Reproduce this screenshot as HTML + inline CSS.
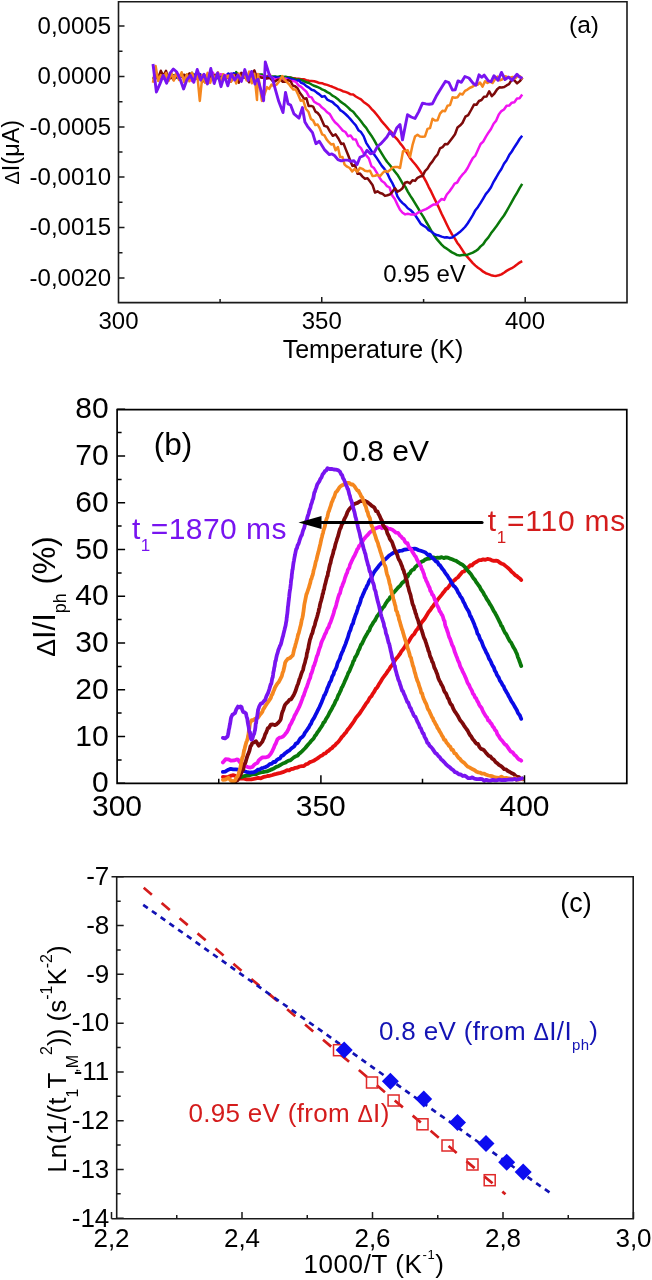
<!DOCTYPE html>
<html><head><meta charset="utf-8"><style>
html,body{margin:0;padding:0;background:#fff;font-family:"Liberation Sans",sans-serif;}
svg{display:block;will-change:transform;}
</style></head><body>
<svg width="652" height="1280" viewBox="0 0 652 1280">
<path d="M153.0 77.8L155.6 77.9L158.2 76.6L160.8 75.7L163.4 75.4L166.0 76.5L168.6 75.5L171.2 75.1L173.8 76.7L176.4 76.6L179.0 77.0L181.6 75.6L184.2 76.5L186.8 76.4L189.4 75.0L192.0 77.0L194.6 76.8L197.2 78.9L199.8 76.7L202.4 76.4L205.0 77.7L207.6 76.7L210.2 77.4L212.8 76.1L215.4 76.7L218.0 77.5L220.6 77.2L223.2 76.6L225.8 75.4L228.4 76.9L231.0 76.6L233.6 77.2L236.2 76.7L238.8 77.6L241.4 76.4L244.0 76.7L246.6 77.2L249.2 75.4L251.8 76.1L254.4 76.0L257.0 78.5L259.6 76.4L262.2 77.2L264.8 77.1L267.4 76.2L270.0 74.9L270.0 77.2L272.6 77.2L275.2 77.6L277.8 77.2L280.4 77.5L283.0 78.0L285.6 78.2L288.2 77.6L290.8 77.8L293.4 78.2L296.0 78.6L298.6 78.8L301.2 79.2L303.8 79.3L306.4 80.1L309.0 80.8L311.6 80.9L314.2 81.2L316.8 82.0L319.4 83.1L322.0 83.2L324.6 84.3L327.2 84.9L329.8 85.9L332.4 86.8L335.0 87.8L337.6 89.1L340.2 89.9L342.8 91.2L345.4 91.9L348.0 92.9L350.6 94.3L353.2 94.6L355.8 96.5L358.4 98.0L361.0 99.4L363.6 101.9L366.2 103.8L368.8 105.7L371.4 108.8L374.0 111.4L376.6 114.5L379.2 117.8L381.8 121.4L384.4 124.3L387.0 127.4L389.6 130.5L392.2 133.0L394.8 136.9L397.4 139.5L400.0 143.1L402.6 146.2L405.2 150.1L407.8 154.2L410.4 158.5L413.0 161.7L415.6 164.7L418.2 168.3L420.8 171.9L423.4 176.6L426.0 181.3L428.6 186.8L431.2 191.7L433.8 197.3L436.4 202.6L439.0 207.9L441.6 213.7L444.2 219.0L446.8 224.5L449.4 229.7L452.0 234.4L454.6 238.1L457.2 242.7L459.8 246.1L462.4 250.2L465.0 254.2L467.6 257.1L470.2 260.1L472.8 263.1L475.4 265.6L478.0 267.8L480.6 269.5L483.2 271.7L485.8 273.2L488.4 274.1L491.0 275.2L493.6 275.7L496.2 275.9L498.8 275.3L501.4 274.4L504.0 272.7L506.6 270.9L509.2 269.4L511.8 268.2L514.4 266.5L517.0 264.6L519.6 262.6L522.2 261.1" fill="none" stroke="#e60e0e" stroke-width="2.5" stroke-linejoin="round"/>
<path d="M153.0 79.3L155.6 75.7L158.2 77.0L160.8 76.7L163.4 77.5L166.0 74.8L168.6 76.0L171.2 75.6L173.8 75.2L176.4 75.5L179.0 75.9L181.6 76.2L184.2 75.4L186.8 77.0L189.4 75.8L192.0 72.7L194.6 77.9L197.2 76.0L199.8 75.6L202.4 76.8L205.0 76.8L207.6 76.6L210.2 75.5L212.8 76.7L215.4 74.7L218.0 78.2L220.6 75.0L223.2 76.3L225.8 76.5L228.4 76.8L231.0 76.2L233.6 77.1L236.2 72.1L238.8 76.2L241.4 76.2L244.0 75.8L246.6 78.2L249.2 75.2L251.8 76.2L254.4 73.9L257.0 76.7L259.6 74.4L262.2 74.5L264.8 79.2L264.8 79.4L267.4 77.4L270.0 77.0L272.6 76.4L275.2 76.5L277.8 77.0L280.4 76.3L283.0 77.1L285.6 76.7L288.2 77.5L290.8 77.5L293.4 78.8L296.0 79.2L298.6 79.5L301.2 79.9L303.8 81.1L306.4 82.3L309.0 83.0L311.6 84.5L314.2 85.8L316.8 86.7L319.4 87.8L322.0 89.4L324.6 90.4L327.2 92.1L329.8 93.3L332.4 95.7L335.0 97.0L337.6 98.9L340.2 101.4L342.8 103.2L345.4 105.1L348.0 107.4L350.6 110.0L353.2 111.7L355.8 115.1L358.4 118.0L361.0 121.2L363.6 124.9L366.2 127.8L368.8 132.1L371.4 135.7L374.0 139.9L376.6 144.6L379.2 149.4L381.8 153.7L384.4 157.8L387.0 161.8L389.6 164.8L392.2 168.1L394.8 171.4L397.4 174.7L400.0 178.9L402.6 183.5L405.2 186.7L407.8 191.6L410.4 195.9L413.0 199.8L415.6 204.1L418.2 208.4L420.8 212.9L423.4 216.9L426.0 221.5L428.6 225.8L431.2 230.6L433.8 234.7L436.4 238.6L439.0 241.6L441.6 244.6L444.2 247.2L446.8 248.7L449.4 250.6L452.0 252.4L454.6 253.7L457.2 255.1L459.8 255.4L462.4 255.1L465.0 254.9L467.6 254.7L470.2 253.7L472.8 252.7L475.4 251.2L478.0 249.4L480.6 246.4L483.2 244.3L485.8 240.3L488.4 237.4L491.0 233.3L493.6 229.9L496.2 226.6L498.8 222.7L501.4 218.9L504.0 215.5L506.6 211.1L509.2 206.5L511.8 201.8L514.4 197.2L517.0 192.8L519.6 188.2L522.2 183.9" fill="none" stroke="#0a780a" stroke-width="2.5" stroke-linejoin="round"/>
<path d="M153.0 76.6L155.6 78.4L158.2 75.1L160.8 78.0L163.4 76.1L166.0 76.1L168.6 79.3L171.2 76.7L173.8 76.4L176.4 77.6L179.0 78.2L181.6 76.5L184.2 77.4L186.8 75.0L189.4 75.9L192.0 75.8L194.6 74.5L197.2 74.2L199.8 74.1L202.4 76.1L205.0 76.2L207.6 76.0L210.2 76.6L212.8 74.5L215.4 76.4L218.0 76.9L220.6 77.6L223.2 75.2L225.8 75.9L228.4 73.5L231.0 75.7L233.6 73.2L236.2 74.4L238.8 78.2L241.4 73.2L244.0 77.7L246.6 77.0L249.2 76.0L251.8 77.2L254.4 77.3L257.0 78.1L259.6 76.2L259.6 75.9L262.2 76.4L264.8 76.5L267.4 77.2L270.0 77.1L272.6 78.2L275.2 77.0L277.8 77.6L280.4 77.8L283.0 77.5L285.6 79.8L288.2 77.9L290.8 79.3L293.4 79.6L296.0 81.2L298.6 80.2L301.2 82.9L303.8 83.8L306.4 86.2L309.0 87.6L311.6 89.8L314.2 90.5L316.8 92.6L319.4 94.4L322.0 96.7L324.6 96.1L327.2 99.6L329.8 100.9L332.4 102.0L335.0 104.5L337.6 106.5L340.2 110.1L342.8 111.8L345.4 114.0L348.0 116.5L350.6 119.4L353.2 122.5L355.8 125.4L358.4 130.2L361.0 132.1L363.6 136.1L366.2 142.8L368.8 146.9L371.4 150.9L374.0 154.2L376.6 157.9L379.2 161.9L381.8 165.9L384.4 168.9L387.0 172.8L389.6 178.3L392.2 182.8L394.8 188.4L397.4 196.3L400.0 200.4L402.6 203.1L405.2 205.3L407.8 208.3L410.4 210.0L413.0 212.5L415.6 215.8L418.2 219.8L420.8 223.9L423.4 225.6L426.0 227.2L428.6 230.1L431.2 231.5L433.8 233.5L436.4 235.1L439.0 235.6L441.6 236.6L444.2 237.4L446.8 237.2L449.4 237.9L452.0 237.6L454.6 235.8L457.2 234.0L459.8 232.1L462.4 229.7L465.0 227.0L467.6 223.5L470.2 219.3L472.8 215.2L475.4 210.2L478.0 206.9L480.6 202.9L483.2 198.6L485.8 194.1L488.4 191.0L491.0 187.2L493.6 181.8L496.2 177.5L498.8 172.9L501.4 169.0L504.0 163.8L506.6 160.3L509.2 155.1L511.8 151.5L514.4 147.2L517.0 143.3L519.6 139.0L522.2 135.8" fill="none" stroke="#0a0ae6" stroke-width="2.5" stroke-linejoin="round"/>
<path d="M153.0 76.6L155.6 77.4L158.2 75.6L160.8 77.2L163.4 78.4L166.0 77.3L168.6 79.6L171.2 74.7L173.8 76.6L176.4 75.1L179.0 74.9L181.6 76.1L184.2 76.9L186.8 77.3L189.4 77.5L192.0 81.0L194.6 78.2L197.2 73.3L199.8 76.9L202.4 75.3L205.0 75.5L207.6 79.1L210.2 76.1L212.8 72.6L215.4 77.1L218.0 75.9L220.6 74.2L223.2 74.7L225.8 75.2L228.4 76.5L231.0 75.6L233.6 76.6L236.2 80.2L238.8 74.9L241.4 74.9L244.0 76.0L246.6 78.7L249.2 75.1L251.8 79.4L254.4 73.9L257.0 74.4L259.6 76.4L259.6 75.8L262.2 76.4L264.8 77.8L267.4 78.3L270.0 77.9L272.6 77.8L275.2 79.6L277.8 79.0L280.4 78.6L283.0 80.3L285.6 78.6L288.2 80.0L290.8 81.0L293.4 81.1L296.0 81.9L298.6 85.4L301.2 86.8L303.8 89.4L306.4 91.7L309.0 96.6L311.6 97.4L314.2 101.8L316.8 103.4L319.4 104.7L322.0 107.6L324.6 109.5L327.2 112.3L329.8 114.1L332.4 118.7L335.0 122.3L337.6 124.5L340.2 127.5L342.8 130.6L345.4 132.0L348.0 136.2L350.6 135.4L353.2 139.3L355.8 139.6L358.4 145.7L361.0 148.1L363.6 153.3L366.2 155.4L368.8 158.3L371.4 166.2L374.0 168.1L376.6 172.4L379.2 177.1L381.8 181.0L384.4 182.7L387.0 186.2L389.6 187.5L392.2 195.5L394.8 199.0L397.4 204.6L400.0 209.8L402.6 212.8L405.2 214.4L407.8 213.8L410.4 214.4L413.0 214.4L415.6 214.4L418.2 212.5L420.8 211.4L423.4 210.2L426.0 209.1L428.6 207.6L431.2 205.9L433.8 204.4L436.4 204.4L439.0 201.6L441.6 199.0L444.2 199.9L446.8 194.5L449.4 191.5L452.0 187.8L454.6 183.6L457.2 182.5L459.8 178.0L462.4 174.7L465.0 172.0L467.6 168.0L470.2 162.9L472.8 158.1L475.4 155.6L478.0 149.8L480.6 144.0L483.2 141.6L485.8 136.9L488.4 132.7L491.0 129.0L493.6 123.7L496.2 120.6L498.8 114.4L501.4 111.1L504.0 109.5L506.6 105.8L509.2 105.6L511.8 102.7L514.4 102.2L517.0 98.5L519.6 98.2L522.2 94.6" fill="none" stroke="#f014f0" stroke-width="2.5" stroke-linejoin="round"/>
<path d="M153.0 73.6L155.6 73.6L158.2 78.2L160.8 70.8L163.4 76.1L166.0 70.9L168.6 79.3L171.2 77.0L173.8 79.9L176.4 75.2L179.0 77.5L181.6 75.8L184.2 74.7L186.8 76.9L189.4 73.4L192.0 75.6L194.6 78.2L197.2 76.6L199.8 75.5L202.4 82.0L205.0 76.6L207.6 75.0L210.2 76.9L212.8 75.2L215.4 75.5L218.0 75.6L220.6 81.6L223.2 76.6L225.8 76.9L228.4 78.2L231.0 81.5L233.6 75.9L236.2 74.9L238.8 82.7L241.4 72.9L244.0 75.6L246.6 78.2L249.2 82.2L251.8 74.1L254.4 70.4L257.0 78.2L257.0 77.4L259.5 77.0L262.0 77.7L264.6 77.8L267.2 78.3L269.8 77.7L272.4 80.8L275.0 81.5L277.6 79.8L280.2 79.5L282.8 81.7L285.4 81.8L288.0 80.0L290.6 81.3L292.9 85.8L295.1 86.3L297.4 88.2L299.6 92.4L301.9 95.4L304.1 98.9L306.4 98.2L308.6 106.0L310.9 105.9L313.1 106.6L315.4 111.6L317.6 112.9L319.9 115.8L322.1 120.7L324.4 125.9L327.2 126.7L330.0 131.6L332.8 135.8L335.6 134.4L338.4 138.5L341.2 143.9L343.5 143.5L345.7 149.1L348.0 154.8L350.2 160.5L352.5 165.9L355.0 164.8L357.5 173.7L360.0 173.6L362.5 176.6L365.0 178.7L367.5 178.3L370.0 181.6L372.5 184.9L375.0 192.5L377.5 191.3L380.0 193.0L382.5 193.8L385.0 195.9L387.5 195.3L390.0 194.4L392.5 191.6L395.0 188.3L397.5 191.7L400.0 190.4L402.5 188.3L405.0 182.8L407.5 182.0L410.0 183.4L412.5 180.3L415.0 180.9L417.5 177.8L420.0 176.6L422.5 176.1L425.0 171.1L427.5 168.7L430.0 164.4L432.5 161.4L435.0 157.3L437.5 154.6L440.0 148.4L442.5 147.2L445.0 144.1L447.5 144.3L450.0 141.0L452.5 137.7L455.0 134.3L457.5 127.5L460.0 125.6L462.5 122.9L465.4 116.7L468.2 115.1L471.1 110.0L474.0 104.6L476.5 104.8L479.0 101.0L481.5 100.0L484.0 96.8L486.6 96.5L489.2 91.3L491.8 96.1L494.4 93.5L497.0 89.5L499.4 87.3L501.8 87.4L504.2 87.1L506.6 85.4L509.0 84.1L511.7 79.8L514.4 80.4L517.1 83.4L519.8 81.1L522.5 77.7" fill="none" stroke="#7d0a0a" stroke-width="2.5" stroke-linejoin="round"/>
<path d="M153.0 82.7L155.6 66.0L158.2 81.0L160.8 75.1L163.4 78.5L166.0 73.0L168.6 81.0L171.2 72.5L173.8 80.5L176.4 72.5L179.0 79.9L181.6 72.3L184.2 82.3L186.8 74.3L189.4 81.3L192.0 72.9L194.6 79.5L197.2 73.6L199.8 101.0L202.4 75.1L205.0 82.7L207.6 72.9L210.2 82.9L212.8 74.7L215.4 79.0L218.0 72.3L220.6 82.7L223.2 74.2L225.8 79.0L228.4 75.5L231.0 81.8L233.6 75.0L236.2 83.5L238.8 73.4L241.4 79.6L244.0 73.1L246.6 80.4L249.2 71.6L251.8 83.3L254.4 73.8L257.0 100.0L257.0 99.0L258.0 73.9L261.9 100.9L264.4 94.5L267.0 87.1L269.2 88.9L271.5 84.6L273.7 86.0L276.5 84.6L279.4 81.1L282.2 76.0L284.4 79.6L286.7 81.8L288.9 84.1L291.2 87.2L293.4 89.6L295.7 89.5L298.2 94.7L300.7 100.7L303.2 100.2L305.8 108.7L308.4 111.7L310.9 119.0L313.1 120.4L315.4 125.1L317.6 124.5L319.9 128.7L322.1 134.3L324.4 135.3L326.6 139.4L328.9 142.2L331.1 144.4L333.4 144.0L335.6 150.3L337.9 147.1L340.1 157.0L342.4 156.9L344.6 164.6L347.1 166.7L349.7 168.0L352.2 171.4L354.8 168.9L357.4 171.9L359.9 167.8L362.4 168.8L365.0 170.8L367.5 171.3L370.0 170.8L372.5 176.0L375.0 175.7L377.5 174.8L380.0 176.1L382.5 173.2L385.0 170.9L387.5 171.9L390.0 170.1L392.5 167.6L395.0 167.1L397.5 166.9L400.0 168.0L403.0 151.2L405.3 151.1L407.7 150.2L410.0 157.0L412.5 145.2L415.0 136.6L417.5 134.8L420.0 136.6L422.5 136.7L425.0 136.4L427.5 128.9L430.0 128.1L432.5 118.8L435.0 120.5L437.5 120.3L440.0 113.6L442.5 110.8L445.0 111.2L447.5 105.7L450.0 105.1L452.5 97.3L455.0 97.7L457.5 97.2L460.0 93.6L462.5 94.5L465.0 90.9L467.5 89.6L470.0 87.7L472.5 86.8L475.0 85.0L477.5 84.7L480.0 82.5L482.5 86.6L485.0 81.2L487.5 83.0L490.0 81.7L492.5 83.0L495.0 79.2L497.5 76.6L500.0 80.2L502.5 79.3L505.0 76.2L507.5 77.0L510.0 77.7L512.5 76.9L515.0 78.5L517.5 76.1L520.0 76.2L522.5 79.6" fill="none" stroke="#f5871e" stroke-width="2.5" stroke-linejoin="round"/>
<path d="M153.0 64.0L156.4 92.0L159.8 84.1L163.2 75.4L166.6 83.2L170.0 73.1L173.4 69.0L176.8 72.0L180.2 79.3L183.6 89.0L187.0 79.6L190.4 75.3L193.8 82.3L197.2 69.5L200.6 80.0L204.0 74.2L207.4 83.9L210.8 68.5L214.2 83.5L217.6 72.9L221.0 86.7L224.4 75.6L227.8 85.8L231.2 73.7L234.6 80.1L238.0 75.1L241.4 81.4L244.8 69.6L248.2 80.4L251.6 71.4L255.0 84.0L255.0 81.8L258.0 79.3L260.8 89.6L263.6 100.8L265.3 61.9L269.5 75.5L272.4 78.3L275.4 89.7L278.8 101.6L283.0 112.6L285.5 92.4L288.1 103.9L290.6 105.0L294.0 113.9L299.0 118.1L302.4 107.6L304.9 122.0L307.5 126.3L312.5 132.6L315.9 143.7L319.3 141.3L324.4 149.6L329.4 154.6L331.9 153.9L334.5 155.5L337.9 159.6L341.2 160.9L344.6 160.1L348.0 160.1L351.0 161.3L354.0 160.8L357.0 164.7L360.0 157.3L363.5 155.7L367.0 150.4L370.5 153.8L374.0 152.7L377.5 146.5L380.6 143.9L383.8 140.5L386.9 137.0L390.0 131.6L393.3 136.3L396.7 128.1L400.0 124.5L402.5 139.9L407.5 114.7L411.2 117.0L415.0 118.5L418.8 111.6L422.5 103.1L425.8 103.9L429.2 104.3L432.5 103.7L436.2 96.3L440.0 90.0L442.8 85.5L445.5 81.3L448.9 82.5L452.4 90.0L455.2 89.9L458.0 80.9L461.4 82.3L464.9 76.5L468.9 78.0L473.0 83.2L476.0 85.2L479.0 74.8L481.6 77.3L484.2 75.1L488.3 80.9L491.1 81.7L494.0 75.7L498.0 80.3L501.5 72.4L505.0 79.5L508.5 77.1L512.0 80.2L517.0 74.3L519.8 77.2L522.5 78.4" fill="none" stroke="#7814f0" stroke-width="2.9" stroke-linejoin="round"/>
<path d="M222.9 777.0L225.2 777.1L228.4 776.8L230.5 775.9L232.8 775.2L234.8 775.6L237.0 777.0L239.4 778.6L241.6 778.4L244.1 778.7L246.8 779.4L249.0 779.3L251.3 779.4L253.7 778.9L256.0 778.3L258.3 777.9L260.7 778.4L263.0 777.2L265.2 776.7L267.6 776.0L269.8 775.8L272.5 775.0L274.3 774.4L276.3 773.9L278.4 773.3L280.6 772.8L282.9 772.2L285.0 771.3L287.1 770.1L289.2 770.3L291.2 769.0L293.3 768.8L295.4 767.8L297.5 767.5L299.6 766.5L301.7 766.1L303.8 766.2L305.8 764.4L307.9 763.7L310.0 762.1L311.8 761.5L313.6 760.8L315.4 759.6L317.1 758.6L318.9 757.4L320.7 755.9L322.5 755.2L324.1 753.7L325.6 753.4L327.2 751.5L328.8 750.7L330.3 749.2L331.9 748.2L333.4 746.3L335.0 745.3L336.4 743.5L337.8 742.4L339.2 740.7L340.6 738.9L341.9 736.9L343.3 735.6L344.7 733.7L346.1 732.3L347.5 729.9L348.8 728.5L350.0 726.8L351.2 725.1L352.5 723.3L353.8 721.5L355.0 719.5L356.2 717.6L357.5 716.0L358.8 714.5L360.0 713.0L361.1 711.2L362.3 709.5L363.4 707.8L364.5 706.1L365.7 704.2L366.8 702.7L368.0 701.3L369.1 699.0L370.2 697.2L371.4 696.3L372.5 694.1L373.6 692.6L374.7 690.9L375.8 688.7L376.8 688.1L377.9 686.3L379.0 684.1L380.1 682.6L381.2 680.7L382.4 678.6L383.7 676.9L385.0 675.1L386.0 673.8L387.1 672.2L388.2 670.4L389.3 669.2L390.5 666.9L391.6 665.7L392.8 664.1L394.0 661.9L395.3 659.8L396.5 658.3L397.7 656.9L398.9 655.3L400.1 653.8L401.3 651.4L402.5 650.0L403.7 648.5L404.8 646.6L406.0 644.3L407.2 643.6L408.3 642.4L409.5 640.3L410.7 638.1L411.8 636.5L413.0 635.1L414.2 634.1L415.3 631.9L416.5 630.0L417.7 628.8L418.8 626.6L420.0 625.6L421.2 623.1L422.4 621.4L423.6 620.1L424.8 618.5L426.0 616.5L427.2 614.6L428.5 612.2L429.7 610.8L430.9 609.1L432.0 607.4L433.2 606.1L434.3 604.3L435.4 603.1L436.5 601.4L437.5 599.9L439.1 597.9L440.6 596.1L442.0 594.4L443.4 592.4L444.7 590.9L446.0 589.0L447.3 588.5L448.6 586.9L450.0 584.9L451.6 583.2L453.1 581.3L454.7 580.1L456.2 578.5L457.8 577.5L459.4 575.5L460.9 573.7L462.5 571.8L464.1 571.5L465.6 569.7L467.2 567.8L468.8 567.0L470.3 565.1L471.9 565.5L473.4 563.7L475.0 562.7L477.1 561.5L479.2 560.1L481.2 560.1L483.3 559.3L485.4 559.8L487.5 558.9L489.6 559.3L491.8 560.3L493.9 560.8L496.0 560.6L498.1 561.2L500.0 562.8L501.8 563.7L503.5 564.3L505.1 565.6L506.7 566.9L508.3 568.2L510.0 569.8L511.6 571.8L513.5 573.2L515.3 575.3L517.2 576.3L518.8 577.8L520.2 578.8L521.2 580.0" fill="none" stroke="#e60e0e" stroke-width="3.8" stroke-linejoin="round" stroke-linecap="round"/>
<path d="M239.4 777.0L241.3 777.0L243.9 776.2L246.8 775.5L249.0 775.4L251.3 774.7L253.7 774.1L256.0 774.2L258.3 773.1L260.7 772.5L263.0 772.0L265.2 771.7L267.0 771.4L268.6 770.7L270.4 769.9L272.5 769.1L274.3 768.2L276.3 766.9L278.4 766.2L280.6 764.9L282.9 763.5L285.0 762.8L286.8 761.6L288.6 760.6L290.4 760.3L292.1 758.9L293.9 757.4L295.7 756.3L297.5 755.7L299.1 753.7L300.6 752.6L302.2 751.1L303.8 749.5L305.3 748.0L306.9 746.0L308.4 744.2L310.0 742.5L311.2 740.9L312.5 739.7L313.8 738.3L315.0 735.8L316.2 734.6L317.5 732.3L318.8 730.6L320.0 728.8L321.2 727.0L322.5 724.9L323.5 722.5L324.6 722.0L325.6 719.8L326.7 717.9L327.7 716.5L328.8 714.2L329.8 712.1L330.8 710.7L331.9 708.7L332.9 706.4L334.0 704.8L335.0 702.6L335.8 700.5L336.7 699.6L337.5 697.4L338.3 695.2L339.2 693.9L340.0 691.9L340.8 690.3L341.7 687.7L342.5 686.6L343.3 684.7L344.2 682.7L345.0 680.8L345.8 679.1L346.7 677.1L347.5 675.1L348.3 672.9L349.2 671.7L350.0 669.8L350.8 667.7L351.7 665.7L352.5 664.0L353.3 661.2L354.2 660.2L355.0 657.5L355.8 656.5L356.7 654.9L357.5 653.3L358.3 650.8L359.2 649.4L360.0 647.5L360.9 644.9L361.9 643.9L362.8 641.9L363.7 640.1L364.6 638.0L365.5 636.6L366.4 634.9L367.3 633.5L368.3 631.4L369.3 630.6L370.3 627.6L371.4 625.8L372.5 624.0L373.5 622.1L374.6 621.0L375.7 619.0L376.9 616.5L378.1 615.1L379.3 613.5L380.5 610.9L381.7 609.5L382.9 607.5L384.2 606.5L385.4 604.1L386.6 602.2L387.8 600.4L388.9 599.6L390.0 597.4L391.5 596.3L393.0 593.2L394.5 591.8L396.0 590.1L397.4 588.3L398.8 586.9L400.2 585.7L401.5 583.8L402.8 582.2L403.9 581.7L405.0 580.5L406.6 577.7L407.9 576.2L408.9 573.8L409.9 573.4L411.0 571.2L412.5 569.8L413.8 569.4L415.3 567.0L416.8 565.9L418.4 564.2L420.1 562.7L421.8 561.6L423.4 561.0L425.0 559.6L427.1 558.9L429.2 558.7L431.2 558.0L433.3 557.4L435.4 558.1L437.5 557.6L439.6 557.9L441.7 557.1L443.8 558.1L445.8 557.4L447.9 557.7L450.0 558.6L452.1 559.3L454.2 560.2L456.2 560.9L458.3 562.3L460.4 563.8L462.5 564.8L463.9 565.9L465.3 567.5L466.7 569.4L468.1 571.1L469.4 572.4L470.8 574.0L472.2 576.2L473.6 578.4L475.0 579.8L476.1 582.0L477.3 583.4L478.5 585.3L479.7 586.8L480.8 589.3L482.0 590.8L483.1 592.3L484.3 594.9L485.4 596.3L486.5 598.6L487.5 600.1L488.6 601.7L489.7 603.8L490.8 605.4L491.8 607.1L492.8 609.1L493.8 611.1L494.8 612.5L495.7 614.2L496.6 615.7L497.5 617.7L498.5 619.6L499.5 621.7L500.4 623.3L501.2 625.7L502.1 626.3L503.0 628.6L504.0 630.7L505.0 632.8L505.9 633.7L506.9 635.5L507.9 637.6L509.0 639.7L510.1 641.5L511.1 642.5L512.2 644.8L513.2 646.9L514.1 648.3L515.0 649.7L516.0 652.0L517.0 654.1L517.9 657.3L518.8 659.2L519.5 661.3L520.2 663.1L520.8 665.0L521.2 666.0" fill="none" stroke="#0a780a" stroke-width="3.8" stroke-linejoin="round" stroke-linecap="round"/>
<path d="M222.9 771.9L225.2 771.6L228.4 769.7L230.7 768.8L233.3 769.3L235.8 769.4L238.3 769.7L240.7 770.5L243.1 771.0L245.3 771.5L247.5 772.2L249.6 772.7L251.7 772.4L253.8 772.3L256.0 771.3L257.8 769.7L259.7 769.5L261.6 768.2L263.4 767.8L265.6 767.0L267.8 765.8L270.0 763.8L271.7 763.8L273.4 761.9L275.2 762.0L277.0 759.8L278.5 758.9L279.9 758.6L281.4 756.0L283.1 755.4L285.0 753.4L286.3 752.5L287.8 751.2L289.4 750.5L291.0 748.8L292.6 747.6L294.3 746.2L295.9 743.6L297.5 743.1L298.8 741.0L300.0 738.9L301.2 737.7L302.5 736.7L303.8 735.1L305.0 732.6L306.2 731.1L307.5 729.2L308.8 727.5L310.0 725.0L311.0 723.8L311.9 721.3L312.9 719.6L313.8 718.3L314.8 716.5L315.8 714.3L316.7 712.6L317.7 710.5L318.7 708.7L319.6 706.8L320.6 704.5L321.5 702.5L322.5 699.9L323.3 698.1L324.1 695.5L324.9 694.8L325.7 692.8L326.5 691.1L327.3 688.2L328.1 686.8L328.9 684.8L329.7 682.4L330.5 681.5L331.3 679.7L332.1 676.8L332.8 675.6L333.6 674.3L334.3 671.3L335.0 670.4L335.9 668.6L336.7 666.7L337.5 663.4L338.3 661.6L339.1 660.2L339.9 658.7L340.6 655.8L341.4 654.1L342.1 652.1L342.8 651.2L343.6 648.6L344.3 647.2L345.0 645.3L345.7 643.6L346.4 641.4L347.1 639.5L347.7 638.0L348.3 635.9L349.0 633.3L349.6 631.7L350.3 630.4L350.9 628.2L351.6 626.0L352.3 624.3L353.0 623.5L353.8 620.0L354.4 618.5L355.0 616.7L355.7 614.5L356.4 613.2L357.0 611.1L357.7 609.0L358.4 606.3L359.1 605.4L359.9 603.2L360.6 600.9L361.3 597.9L362.0 597.1L362.8 594.8L363.5 593.4L364.3 591.5L365.0 589.7L366.0 588.3L367.0 585.8L368.0 584.2L369.1 581.2L370.1 579.6L371.2 578.3L372.2 576.0L373.3 573.7L374.3 571.9L375.4 570.4L376.5 569.0L377.5 567.8L379.1 565.5L380.7 563.8L382.3 562.1L383.9 560.2L385.5 559.2L387.1 557.6L388.6 556.1L390.0 555.0L392.1 553.7L394.1 552.4L395.9 551.6L397.9 551.6L400.0 550.8L401.9 550.7L404.0 549.7L406.1 549.5L408.2 549.1L410.4 548.6L412.5 548.9L414.6 548.7L416.7 549.2L418.8 550.2L420.8 550.8L422.9 551.5L425.0 552.2L426.6 553.7L428.1 555.2L429.7 554.6L431.2 557.1L432.8 558.1L434.4 559.8L435.9 561.4L437.5 562.1L438.8 564.7L440.0 565.3L441.2 567.1L442.5 569.1L443.8 570.6L445.0 572.6L446.2 574.2L447.5 575.8L448.8 578.2L450.0 579.6L451.1 582.3L452.3 583.6L453.5 585.9L454.7 586.6L455.8 588.1L457.0 589.9L458.1 592.5L459.3 594.0L460.4 596.5L461.5 597.6L462.5 599.5L463.5 602.0L464.5 603.6L465.5 606.0L466.5 607.9L467.5 609.7L468.4 610.9L469.3 612.9L470.2 616.0L471.0 616.7L471.8 618.6L472.5 620.1L473.5 622.4L474.3 624.3L474.8 625.9L475.5 627.7L476.3 629.3L477.5 633.7L478.2 634.5L478.9 635.6L479.7 638.2L480.5 640.1L481.4 641.1L482.3 643.5L483.3 646.4L484.2 648.1L485.2 650.1L486.2 652.5L487.2 654.1L488.1 656.0L489.1 658.8L490.0 660.0L491.0 662.0L491.9 664.3L492.9 666.1L493.9 667.6L494.9 670.9L495.9 672.1L496.9 674.9L497.9 676.3L498.8 677.6L499.8 680.5L500.7 681.6L501.6 683.0L502.5 685.0L503.6 686.2L504.7 689.2L505.7 690.6L506.7 692.5L507.7 694.0L508.7 696.3L509.7 697.8L510.6 699.7L511.6 701.6L512.5 702.7L513.6 704.5L514.7 706.7L515.8 708.3L517.0 710.5L518.0 713.1L519.0 714.3L519.9 715.5L520.7 717.6L521.2 718.9" fill="none" stroke="#0a0ae6" stroke-width="3.8" stroke-linejoin="round" stroke-linecap="round"/>
<path d="M222.9 762.4L223.9 761.3L225.6 759.2L228.2 759.3L231.2 760.7L234.1 760.4L236.7 759.4L238.0 759.6L239.4 761.6L241.1 763.7L243.0 763.6L245.0 765.9L247.8 767.1L250.5 767.5L252.4 766.9L254.2 764.8L256.0 763.5L257.4 763.0L258.7 760.4L260.6 758.8L262.2 757.5L264.1 757.4L266.1 757.3L268.2 756.6L270.0 754.7L271.0 753.3L272.0 751.6L273.0 749.5L273.9 747.7L274.8 745.1L275.7 743.7L276.6 741.4L277.5 739.2L279.4 737.7L281.2 737.4L283.1 736.5L285.0 734.4L285.9 733.2L286.9 732.0L287.8 730.3L288.8 728.5L289.7 725.6L290.6 724.2L291.6 722.5L292.5 720.2L293.4 719.0L294.4 716.1L295.3 714.6L296.2 712.9L297.2 710.8L298.1 709.1L299.1 707.2L300.0 705.0L300.8 703.0L301.5 701.1L302.2 699.4L303.0 696.7L303.8 695.6L304.5 692.9L305.2 691.2L306.0 688.7L306.8 687.2L307.5 684.8L308.2 682.9L308.9 680.7L309.5 679.1L310.2 677.8L310.9 674.1L311.6 673.1L312.3 670.9L313.0 668.5L313.6 666.0L314.3 665.3L315.0 662.6L315.7 660.9L316.3 658.2L317.0 655.9L317.7 654.7L318.3 652.5L319.0 649.9L319.7 647.9L320.4 646.3L321.1 643.5L321.8 641.5L322.5 640.0L323.3 638.4L324.2 636.4L325.0 634.1L325.9 632.8L326.8 630.2L327.7 628.2L328.6 627.6L329.5 624.2L330.4 622.6L331.2 620.3L331.9 618.3L332.5 616.6L333.1 614.9L333.7 613.0L334.3 610.5L334.9 608.7L335.5 607.4L336.2 605.0L336.8 602.4L337.4 600.6L338.0 598.0L338.7 595.9L339.3 594.2L340.0 593.3L340.7 590.2L341.4 587.5L342.1 586.4L342.8 584.1L343.5 582.7L344.2 580.9L344.9 578.1L345.6 576.3L346.4 573.8L347.1 572.9L347.8 570.0L348.6 568.6L349.3 567.9L350.0 564.6L350.9 563.0L351.8 560.8L352.7 559.0L353.6 557.1L354.5 555.7L355.5 553.4L356.4 551.7L357.3 549.1L358.2 548.3L359.1 545.9L360.0 545.6L361.2 543.0L362.5 541.7L363.8 539.2L365.0 537.9L366.2 536.4L367.5 535.2L368.8 533.6L370.0 532.2L372.0 530.7L374.0 529.4L376.0 528.2L378.0 527.4L380.0 526.8L382.0 528.2L384.0 527.0L386.0 527.1L388.0 528.6L390.0 528.9L392.0 529.5L394.0 531.1L396.0 532.7L398.0 532.8L400.0 535.7L401.2 536.6L402.5 538.3L403.8 539.0L405.0 541.7L406.2 543.1L407.5 543.1L408.8 546.8L410.0 548.7L411.1 549.0L412.3 551.7L413.4 553.3L414.6 555.4L415.8 556.8L416.9 559.5L418.0 561.5L419.0 563.0L420.0 565.0L420.9 566.1L421.7 569.0L422.5 570.0L423.3 572.5L424.0 574.0L424.7 577.5L425.4 578.2L426.2 580.8L427.0 582.0L427.8 583.9L428.7 586.3L429.6 587.8L430.4 591.0L431.3 591.7L432.2 594.6L433.2 595.3L434.1 597.5L435.0 600.3L435.9 601.3L436.8 605.0L437.7 606.4L438.7 608.3L439.6 611.2L440.6 612.2L441.5 614.2L442.3 615.2L443.1 617.4L443.8 619.9L444.6 621.2L445.0 624.2L445.4 625.7L445.8 627.0L446.4 628.1L447.5 631.6L448.0 632.7L448.6 635.3L449.2 637.2L449.9 638.4L450.6 640.5L451.4 642.6L452.1 645.0L453.0 646.3L453.8 648.5L454.6 651.5L455.4 653.5L456.2 655.7L457.0 657.5L457.8 659.9L458.6 661.7L459.3 663.0L460.0 665.8L460.9 667.8L461.8 669.2L462.6 671.3L463.4 672.9L464.2 674.4L465.0 676.4L465.8 678.0L466.6 680.1L467.4 682.3L468.2 683.8L469.1 685.0L470.0 687.4L471.0 689.1L471.9 690.7L472.9 693.7L474.0 694.6L475.0 697.5L476.1 698.1L477.2 700.9L478.2 702.3L479.3 705.0L480.4 706.6L481.5 707.8L482.5 710.3L483.6 712.6L484.8 714.5L485.9 716.4L487.0 717.4L488.2 720.5L489.3 720.9L490.5 723.0L491.6 724.0L492.7 726.4L493.9 727.6L495.0 730.1L496.2 731.0L497.5 734.6L498.7 736.0L499.9 738.2L501.2 739.7L502.4 741.0L503.7 742.8L504.9 744.4L506.2 745.0L507.5 746.9L509.0 749.1L510.7 751.5L512.5 752.2L514.3 754.7L516.0 756.0L517.6 758.2L519.1 759.6L520.3 759.8L521.2 760.7" fill="none" stroke="#f014f0" stroke-width="3.8" stroke-linejoin="round" stroke-linecap="round"/>
<path d="M233.9 782.1L235.5 781.5L237.6 780.2L238.5 778.5L239.4 777.1L240.4 774.9L241.3 773.3L242.2 770.1L243.2 769.7L244.1 764.4L245.0 763.6L245.7 761.9L246.4 759.1L247.2 756.6L247.9 754.7L248.6 753.0L249.5 750.6L250.4 746.6L251.4 745.2L252.3 743.1L254.2 742.2L256.0 741.2L257.4 743.5L258.8 745.7L260.5 743.9L262.4 741.6L263.3 739.3L264.3 737.3L265.2 734.2L266.1 732.7L267.0 730.4L267.8 728.1L268.9 727.9L270.7 724.7L272.9 724.5L275.0 725.1L276.7 724.2L278.4 722.6L280.0 720.6L280.7 719.4L281.4 715.9L282.0 713.1L282.7 711.3L283.4 709.6L284.2 707.0L285.0 704.9L286.4 703.2L287.9 701.8L289.6 699.6L291.1 699.4L292.5 697.0L293.4 695.7L294.3 693.8L295.0 692.2L295.7 690.5L296.6 687.6L297.5 685.0L298.1 683.8L298.7 681.7L299.4 679.2L300.1 677.9L300.9 675.2L301.6 673.1L302.4 671.2L303.1 669.7L303.8 666.2L304.4 664.3L305.0 662.5L305.5 660.0L306.0 658.4L306.5 656.9L306.9 653.2L307.4 652.1L307.8 649.6L308.2 649.0L308.6 646.2L309.0 644.2L309.5 641.9L310.0 639.4L310.6 638.0L311.1 636.2L311.7 634.3L312.3 633.4L312.9 631.1L313.5 628.5L314.2 626.8L314.8 625.0L315.5 621.9L316.2 619.9L316.7 618.1L317.1 616.8L317.6 615.0L318.1 612.8L318.5 611.9L319.0 608.9L319.5 607.6L320.0 604.6L320.5 602.6L321.1 600.7L321.6 598.7L322.1 597.2L322.6 594.0L323.1 593.6L323.6 590.1L324.1 589.5L324.5 586.9L325.0 584.7L325.5 583.2L326.1 580.4L326.6 578.6L327.1 576.5L327.6 575.9L328.1 571.9L328.6 571.3L329.1 568.2L329.6 566.0L330.0 564.2L330.5 563.1L331.0 560.5L331.5 558.3L332.0 557.1L332.5 555.1L333.1 553.4L333.7 550.2L334.2 549.5L334.8 547.3L335.4 544.3L336.0 542.5L336.5 541.0L337.1 538.7L337.7 537.3L338.3 535.4L338.8 533.3L339.4 531.0L340.0 528.9L340.8 527.8L341.7 524.7L342.5 523.8L343.3 522.1L344.2 519.3L345.0 517.8L345.8 516.3L346.7 514.4L347.5 511.9L349.0 509.5L350.5 507.8L352.0 506.4L353.5 504.5L355.0 503.8L357.5 502.9L360.0 501.2L362.5 501.2L365.0 500.9L367.5 502.2L370.0 504.2L371.5 505.7L373.0 506.6L374.5 507.8L376.0 511.2L377.5 511.4L378.4 513.8L379.3 515.2L380.2 517.3L381.1 519.4L382.0 520.8L382.9 524.9L383.9 526.3L385.0 527.9L385.7 528.8L386.5 530.0L387.3 533.1L388.1 534.8L389.0 536.4L389.8 538.8L390.7 540.3L391.6 541.3L392.4 543.0L393.3 545.8L394.2 548.1L395.0 550.3L395.8 551.9L396.6 553.5L397.3 555.0L398.1 557.6L398.9 559.6L399.7 560.7L400.5 562.4L401.3 564.7L402.1 566.3L402.8 568.9L403.6 570.2L404.3 573.0L405.0 574.5L405.6 577.1L406.1 579.9L406.7 580.0L407.2 582.5L407.7 585.7L408.2 586.8L408.6 588.4L409.1 590.6L409.6 592.2L410.1 593.7L410.6 595.1L411.2 598.2L411.8 600.4L412.4 603.4L413.0 605.1L413.6 606.0L414.2 608.9L414.8 610.0L415.5 613.2L416.1 614.1L416.8 617.1L417.5 618.8L418.2 620.6L418.9 623.5L419.7 624.8L420.4 625.7L421.1 629.2L421.8 630.5L422.4 632.7L423.1 634.9L423.7 637.0L424.3 638.4L424.9 639.4L425.7 641.9L426.4 643.9L427.1 646.4L427.8 648.2L428.4 650.8L429.1 651.8L429.7 654.5L430.3 656.7L430.9 657.7L431.5 659.2L432.2 661.7L432.9 662.5L433.6 664.8L434.3 667.5L435.1 669.0L435.8 670.5L436.5 672.4L437.3 674.2L438.0 677.1L438.8 679.3L439.6 681.0L440.4 682.1L441.2 684.2L442.1 685.5L443.0 687.3L443.9 690.2L444.8 692.2L445.8 693.1L446.7 695.1L447.7 697.9L448.7 699.0L449.7 702.2L450.7 704.2L451.7 704.8L452.6 707.0L453.6 709.4L454.8 711.5L455.9 712.9L457.1 714.8L458.2 716.6L459.4 718.9L460.5 720.7L461.7 722.0L462.8 723.6L464.0 725.6L465.1 727.2L466.4 729.0L467.6 730.5L468.8 733.0L470.1 735.2L471.3 736.6L472.6 739.0L473.9 740.3L475.2 742.2L476.6 743.9L478.0 744.0L479.5 747.1L481.0 748.9L482.6 749.3L484.1 750.4L485.7 752.4L487.3 754.2L488.9 756.0L490.4 756.4L492.1 758.7L493.8 759.7L495.5 761.9L497.2 763.2L498.9 764.8L500.6 765.8L502.4 767.2L504.2 769.2L506.0 769.3L507.9 771.1L509.9 772.0L512.0 773.3L514.0 774.2L515.9 776.2L517.6 777.0L519.1 777.2L520.3 779.0L522.4 778.9L522.5 779.2" fill="none" stroke="#7d0a0a" stroke-width="3.8" stroke-linejoin="round" stroke-linecap="round"/>
<path d="M222.9 779.8L225.4 779.5L228.4 777.8L230.8 780.6L233.0 781.4L235.0 780.7L236.7 777.4L237.7 776.3L238.5 774.0L239.4 771.0L239.9 769.2L240.3 767.7L240.8 765.3L241.3 762.8L241.7 761.4L242.2 757.8L242.7 756.9L243.1 756.0L243.6 753.1L244.1 750.1L244.5 749.4L245.0 747.1L245.7 744.4L246.3 742.3L247.0 740.6L247.7 738.2L248.1 735.7L248.5 734.3L248.9 730.6L249.3 728.8L249.7 725.2L250.1 722.9L250.5 722.2L251.7 720.1L253.2 720.3L255.4 718.5L257.8 717.8L259.7 715.1L261.5 713.0L262.4 711.6L263.3 709.2L264.2 708.0L265.2 706.3L266.7 703.9L268.3 701.6L270.0 699.1L270.8 697.9L271.6 695.3L272.4 694.3L273.3 691.6L274.1 690.0L275.0 687.5L276.2 685.5L277.4 683.5L278.7 682.2L279.9 679.9L280.9 677.9L281.8 676.1L282.6 672.8L283.3 671.3L284.0 668.3L284.5 666.3L284.9 664.0L285.1 662.8L285.8 661.4L287.6 659.1L290.0 658.0L291.9 656.2L292.7 655.4L293.2 653.7L293.7 651.4L294.4 648.4L294.9 647.3L295.5 644.6L296.1 642.7L296.8 640.1L297.5 637.4L298.1 634.5L298.7 633.4L299.3 630.9L299.8 628.9L300.3 626.8L300.8 625.1L301.2 623.2L301.7 620.0L302.1 619.0L302.5 617.4L302.9 615.4L303.2 613.1L303.5 611.4L303.8 608.7L304.0 607.7L304.2 605.5L304.5 603.7L304.9 601.9L305.4 599.4L305.9 596.8L306.4 594.4L307.0 593.1L307.6 591.2L308.3 589.1L309.0 587.3L309.6 584.8L310.3 582.7L310.9 579.5L311.5 578.8L312.1 576.4L312.6 575.3L313.2 572.7L313.7 570.0L314.2 568.5L314.7 566.8L315.3 564.0L315.8 561.5L316.4 560.2L316.9 557.9L317.3 556.1L317.8 554.3L318.3 552.1L318.8 550.6L319.3 548.2L319.8 546.1L320.3 544.2L320.8 541.6L321.4 538.8L321.9 537.2L322.5 534.3L323.0 533.2L323.5 530.5L324.0 529.1L324.5 527.7L325.1 525.3L325.6 522.5L326.2 520.1L326.7 518.5L327.3 517.2L327.8 515.0L328.4 512.0L328.9 511.4L329.5 509.3L330.0 507.9L330.8 505.7L331.7 502.3L332.5 500.8L333.3 498.5L334.2 497.0L335.0 494.5L335.8 492.2L336.7 491.5L337.5 490.5L339.4 487.4L341.3 485.7L343.2 484.7L345.0 483.7L347.2 482.9L349.2 482.9L351.2 484.5L352.8 484.5L354.3 486.0L355.8 488.3L357.5 490.6L358.4 490.6L359.3 492.6L360.2 494.0L361.2 496.4L362.1 497.3L363.1 499.8L364.1 502.6L365.0 505.2L365.7 506.2L366.4 508.8L367.0 511.2L367.7 512.2L368.4 515.4L369.1 516.8L369.8 517.9L370.5 521.2L371.1 523.4L371.8 526.2L372.5 527.2L373.2 530.5L373.9 531.5L374.5 533.8L375.2 535.5L375.9 537.9L376.6 540.2L377.3 541.6L378.0 543.4L378.6 546.1L379.3 547.7L380.0 550.2L380.6 552.3L381.2 553.7L381.7 555.7L382.3 557.5L382.9 559.3L383.5 561.5L384.0 563.6L384.6 565.1L385.2 566.0L385.8 568.1L386.3 571.3L386.9 573.7L387.5 575.7L388.0 576.6L388.5 578.8L389.0 580.4L389.4 582.7L389.9 584.4L390.4 585.9L390.8 588.7L391.3 590.4L391.8 593.5L392.3 595.0L392.8 595.8L393.3 599.1L393.9 600.3L394.4 602.6L395.0 604.9L395.5 606.2L396.0 610.3L396.6 611.1L397.2 612.2L397.8 615.3L398.4 615.6L399.0 619.4L399.6 621.0L400.2 623.1L400.8 625.5L401.4 627.2L402.0 629.4L402.6 630.6L403.2 633.2L403.7 634.7L404.3 636.9L404.8 638.3L405.3 640.2L406.0 642.1L406.6 643.9L407.3 646.3L407.9 649.1L408.4 650.3L409.0 652.3L409.5 653.9L410.0 656.3L410.6 657.2L411.1 658.0L411.6 660.8L412.2 662.7L412.8 665.6L413.3 666.5L413.9 668.5L414.4 671.0L415.0 673.0L415.5 674.4L416.1 677.1L416.6 678.2L417.2 680.4L417.8 681.7L418.4 683.0L419.1 685.7L419.8 687.6L420.5 689.5L421.2 693.0L422.0 693.1L422.8 696.1L423.6 698.6L424.4 700.2L425.1 702.0L425.9 703.3L426.7 705.2L427.5 707.9L428.3 709.8L429.2 710.8L430.1 713.2L431.0 714.9L431.9 717.1L432.8 718.2L433.7 720.8L434.6 721.9L435.5 724.0L436.5 725.3L437.5 728.0L438.5 729.1L439.6 731.4L440.7 733.0L441.8 735.3L443.0 737.0L444.1 739.9L445.3 740.1L446.5 742.7L447.7 743.8L449.0 745.9L450.3 746.7L451.6 749.9L453.0 749.9L454.4 753.2L455.8 753.7L457.2 755.9L458.6 757.9L460.0 758.8L461.4 760.8L462.8 761.9L464.5 763.1L466.1 765.0L467.8 766.8L469.4 767.3L471.1 768.3L472.8 769.3L474.7 770.2L476.6 771.8L478.4 772.4L480.3 772.7L482.2 773.7L484.2 773.6L486.3 774.8L488.4 775.5L490.5 775.9L492.7 776.4L495.0 777.4L497.0 777.6L499.2 777.9L501.4 776.7L503.8 778.2L506.2 778.0L508.5 778.3L510.8 778.7L512.9 779.2L514.9 778.0L516.6 779.9L518.0 779.5L521.7 779.2L522.5 778.5" fill="none" stroke="#f5871e" stroke-width="3.8" stroke-linejoin="round" stroke-linecap="round"/>
<path d="M222.9 737.9L225.0 738.4L227.5 736.4L228.0 734.5L228.4 732.8L228.8 729.7L229.3 728.0L229.7 725.4L230.1 723.7L230.5 721.1L230.8 719.1L231.2 717.2L232.4 714.7L233.9 713.9L235.0 713.0L236.4 709.2L237.9 706.6L239.3 707.4L240.4 706.4L241.6 707.2L242.3 709.9L243.1 711.9L244.5 712.4L245.9 713.3L246.4 715.7L246.8 717.3L247.3 718.7L247.7 721.9L248.1 724.3L248.6 726.5L249.1 730.1L249.5 732.1L250.0 732.3L250.5 736.4L250.9 738.4L251.4 739.5L252.3 739.0L253.3 735.4L254.2 733.7L254.6 731.5L255.0 730.2L255.4 727.3L255.7 723.8L256.1 723.1L256.5 719.1L256.9 718.2L257.3 715.6L257.7 712.9L258.1 709.8L258.6 708.6L259.1 706.8L259.7 705.5L260.9 703.6L262.4 703.1L263.9 701.1L265.2 699.8L266.3 696.5L267.2 694.6L268.1 692.9L268.9 690.5L269.5 688.6L270.1 686.4L270.7 684.4L271.3 683.8L272.0 679.6L272.3 678.2L272.7 677.4L273.1 674.6L273.4 672.1L273.8 670.7L274.2 667.8L274.6 666.4L275.0 663.4L275.4 660.9L275.8 660.6L276.2 658.2L276.9 655.0L277.7 652.6L278.4 649.8L279.2 648.2L279.9 645.9L280.6 645.0L281.2 643.1L281.9 640.1L282.5 637.7L283.1 635.9L283.6 633.4L284.1 631.5L284.6 629.5L285.0 627.7L285.6 625.6L285.9 623.4L286.5 620.4L286.7 617.6L286.9 617.2L287.0 615.4L287.3 613.9L287.5 611.8L287.7 610.0L287.9 606.8L288.2 605.4L288.4 603.0L288.6 601.4L288.9 599.0L289.2 596.4L289.4 594.1L289.7 591.8L290.0 589.9L290.3 588.3L290.5 586.4L290.8 583.9L291.0 581.3L291.3 579.2L291.6 577.9L291.8 574.8L292.1 572.9L292.4 569.7L292.7 569.2L293.0 566.6L293.3 564.2L293.6 562.3L293.9 560.8L294.3 558.5L294.6 556.8L295.0 555.0L295.6 551.8L296.2 549.1L296.9 548.3L297.6 545.3L298.4 544.1L299.1 542.1L299.9 539.3L300.6 537.4L301.3 535.7L301.9 535.1L302.5 532.5L303.3 529.8L304.1 528.2L304.8 525.2L305.5 523.4L306.1 521.4L306.8 519.7L307.5 516.8L308.1 515.3L308.6 513.7L309.2 511.1L309.8 509.1L310.4 507.8L310.9 505.0L311.5 503.5L312.0 502.1L312.5 500.0L313.2 498.6L313.8 495.4L314.3 492.6L314.9 491.7L315.5 489.6L316.2 487.9L317.2 484.6L318.2 483.0L319.3 481.4L320.4 478.8L321.5 477.3L322.5 474.6L323.8 473.1L325.0 471.0L326.2 470.5L327.5 468.2L329.5 469.0L331.6 468.9L333.8 469.5L335.8 469.6L337.9 470.1L340.0 471.7L341.0 474.1L342.1 475.2L343.1 478.3L344.2 480.1L345.2 482.6L346.2 485.6L346.9 486.6L347.5 488.8L348.1 489.2L348.7 491.7L349.3 494.4L349.9 495.8L350.5 498.9L351.2 500.3L351.8 502.1L352.5 505.7L353.0 506.8L353.4 508.4L353.9 510.4L354.4 511.9L354.9 514.2L355.4 516.8L355.9 518.1L356.4 520.5L356.9 522.3L357.5 524.8L358.0 527.2L358.5 529.3L359.0 530.9L359.5 532.7L360.0 535.1L360.5 537.5L361.1 539.4L361.6 542.5L362.1 543.1L362.7 544.7L363.2 546.8L363.8 549.4L364.3 550.4L364.8 552.7L365.4 553.9L365.9 556.5L366.4 559.0L367.0 561.1L367.5 562.8L368.0 565.0L368.6 566.1L369.2 569.4L369.7 571.5L370.3 571.8L370.8 574.1L371.4 577.1L372.0 579.1L372.5 581.4L373.0 582.8L373.6 584.1L374.1 586.1L374.5 589.0L375.0 590.0L375.6 591.4L376.1 594.2L376.6 596.6L377.0 598.1L377.5 600.2L377.9 601.9L378.4 603.5L378.8 604.9L379.4 607.7L380.0 610.4L380.5 611.4L380.9 614.1L381.4 616.5L382.0 617.9L382.5 619.7L383.1 621.7L383.7 623.3L384.2 626.7L384.8 627.8L385.4 629.8L385.9 633.2L386.5 634.8L387.0 636.0L387.5 638.3L388.0 640.2L388.6 642.8L389.2 643.7L389.7 646.3L390.2 648.2L390.7 651.0L391.2 652.6L391.7 655.2L392.2 657.9L392.7 659.2L393.2 660.5L393.8 663.0L394.3 665.1L394.9 666.0L395.4 669.4L395.9 670.9L396.5 673.1L397.0 675.3L397.6 676.7L398.2 679.2L398.8 680.7L399.4 681.8L400.0 684.2L400.7 686.0L401.4 688.4L402.2 690.9L403.0 691.1L403.9 693.8L404.7 695.3L405.6 697.7L406.5 699.9L407.3 702.1L408.2 702.3L409.1 705.0L409.9 707.4L410.8 708.2L411.7 710.9L412.7 712.6L413.6 715.0L414.5 716.3L415.4 716.7L416.3 719.1L417.3 721.5L418.2 723.1L419.1 724.9L420.0 727.6L420.9 728.3L421.8 730.8L422.7 733.2L423.6 733.6L424.5 736.6L425.4 738.2L426.3 739.8L427.3 742.9L428.3 743.2L429.6 745.8L431.0 746.9L432.4 748.6L433.9 750.9L435.4 753.1L436.9 754.0L438.3 756.0L439.8 757.2L441.2 759.4L442.7 760.6L444.1 762.1L445.6 763.8L447.0 765.2L448.4 766.4L449.9 767.4L451.3 768.9L453.2 770.1L455.0 772.2L456.9 772.7L458.8 774.3L460.8 774.5L462.8 776.0L464.6 775.6L466.4 776.7L468.3 778.2L470.2 778.2L472.3 777.4L474.4 778.6L476.6 779.1L478.4 779.1L480.3 778.8L482.2 779.1L484.2 780.8L486.3 779.8L488.4 780.6L490.5 780.6L492.7 779.8L495.0 780.4L497.0 780.3L499.2 779.6L501.5 780.2L503.8 780.0L506.2 780.0L508.6 779.6L510.8 779.4L513.0 779.5L514.9 778.9L516.6 779.8L518.0 779.3L521.4 778.7L522.0 778.3" fill="none" stroke="#7814f0" stroke-width="3.8" stroke-linejoin="round" stroke-linecap="round"/>
<path d="M482 522.5H318" stroke="#000" stroke-width="3.2" stroke-linecap="round" fill="none"/>
<path d="M298.5 522.5L321.5 516V529Z" fill="#000"/>
<path d="M143.7 887.8L505.5 1194.3" stroke="#d41c1c" stroke-width="2.7" stroke-dasharray="10.7 12.8" fill="none"/>
<path d="M143.2 904.8L551.5 1193.9" stroke="#1212b4" stroke-width="2.7" stroke-dasharray="5.6 5.1" fill="none"/>
<rect x="333.5" y="1044.7" width="11" height="11" fill="none" stroke="#e02828" stroke-width="1.5"/>
<rect x="366.5" y="1077.0" width="11" height="11" fill="none" stroke="#e02828" stroke-width="1.5"/>
<rect x="388.1" y="1095.0" width="11" height="11" fill="none" stroke="#e02828" stroke-width="1.5"/>
<rect x="417.0" y="1118.8" width="11" height="11" fill="none" stroke="#e02828" stroke-width="1.5"/>
<rect x="442.0" y="1140.0" width="11" height="11" fill="none" stroke="#e02828" stroke-width="1.5"/>
<rect x="467.0" y="1159.0" width="11" height="11" fill="none" stroke="#e02828" stroke-width="1.5"/>
<rect x="484.2" y="1174.7" width="11" height="11" fill="none" stroke="#e02828" stroke-width="1.5"/>
<path d="M344.2 1041.4L352.7 1049.9L344.2 1058.4L335.7 1049.9Z" fill="#0c0cf0"/>
<path d="M390.4 1072.7L398.9 1081.2L390.4 1089.7L381.9 1081.2Z" fill="#0c0cf0"/>
<path d="M423.8 1090.4L432.2 1098.9L423.8 1107.4L415.2 1098.9Z" fill="#0c0cf0"/>
<path d="M457.5 1114.0L466.0 1122.5L457.5 1131.0L449.0 1122.5Z" fill="#0c0cf0"/>
<path d="M486.0 1135.1L494.5 1143.6L486.0 1152.1L477.5 1143.6Z" fill="#0c0cf0"/>
<path d="M506.7 1153.7L515.2 1162.2L506.7 1170.7L498.2 1162.2Z" fill="#0c0cf0"/>
<path d="M523.2 1163.4L531.7 1171.9L523.2 1180.4L514.7 1171.9Z" fill="#0c0cf0"/>
<g font-family="'Liberation Sans', sans-serif" fill="#000">
<path d="M118.5 1.8H627V302.6H118.5Z" fill="none" stroke="#1a1a1a" stroke-width="1.6"/>
<text x="111" y="33.9" font-size="24" text-anchor="end">0,0005</text>
<text x="111" y="84.4" font-size="24" text-anchor="end">0,0000</text>
<text x="111" y="134.9" font-size="24" text-anchor="end">-0,0005</text>
<text x="111" y="184.9" font-size="24" text-anchor="end">-0,0010</text>
<text x="111" y="235.4" font-size="24" text-anchor="end">-0,0015</text>
<text x="111" y="285.9" font-size="24" text-anchor="end">-0,0020</text>
<path d="M118.5 26h6M118.5 76.5h6M118.5 127h6M118.5 177h6M118.5 227.5h6M118.5 278h6M118.5 51.25h4M118.5 101.75h4M118.5 152h4M118.5 202.25h4M118.5 252.75h4M321.75 302.6v-5.5M525.2 302.6v-5.5M220.1 302.6v-3.5M423.6 302.6v-3.5" stroke="#1a1a1a" stroke-width="1.5" fill="none"/>
<text x="118.5" y="329" font-size="24" text-anchor="middle">300</text>
<text x="321.75" y="329" font-size="24" text-anchor="middle">350</text>
<text x="525" y="329" font-size="24" text-anchor="middle">400</text>
<text x="373" y="358" font-size="25" text-anchor="middle">Temperature (K)</text>
<text transform="translate(19 152.2) rotate(-90)" font-size="23.5" text-anchor="middle"><tspan font-size="20">&#916;</tspan>I(&#956;A)</text>
<text x="584" y="32.6" font-size="24.5" text-anchor="middle">(a)</text>
<text x="424.5" y="282" font-size="24" text-anchor="middle">0.95 eV</text>
<path d="M117.1 409.7H626.8V783.3H117.1Z" fill="none" stroke="#000" stroke-width="1.7"/>
<text x="108.6" y="792.2" font-size="30" text-anchor="end">0</text>
<text x="108.6" y="745.5" font-size="30" text-anchor="end">10</text>
<text x="108.6" y="698.8" font-size="30" text-anchor="end">20</text>
<text x="108.6" y="652.0" font-size="30" text-anchor="end">30</text>
<text x="108.6" y="605.2" font-size="30" text-anchor="end">40</text>
<text x="108.6" y="558.5" font-size="30" text-anchor="end">50</text>
<text x="108.6" y="511.8" font-size="30" text-anchor="end">60</text>
<text x="108.6" y="465.0" font-size="30" text-anchor="end">70</text>
<text x="108.6" y="418.2" font-size="30" text-anchor="end">80</text>
<path d="M117.1 783.25h8M117.1 736.50h8M117.1 689.75h8M117.1 643.00h8M117.1 596.25h8M117.1 549.50h8M117.1 502.75h8M117.1 456.00h8M117.1 409.25h8M117.1 759.88h4.5M117.1 713.12h4.5M117.1 666.38h4.5M117.1 619.62h4.5M117.1 572.88h4.5M117.1 526.12h4.5M117.1 479.38h4.5M117.1 432.62h4.5M320.9 783.3v-8M524.5 783.3v-8M218.75 783.3v-4.5M422.5 783.3v-4.5" stroke="#000" stroke-width="1.5" fill="none"/>
<text x="117" y="815.6" font-size="30" text-anchor="middle">300</text>
<text x="320.75" y="815.6" font-size="30" text-anchor="middle">350</text>
<text x="524.5" y="815.6" font-size="30" text-anchor="middle">400</text>
<text x="173.1" y="454.6" font-size="31.5" text-anchor="middle">(b)</text>
<text x="385.6" y="460.5" font-size="30" text-anchor="middle">0.8 eV</text>
<text x="132" y="539" font-size="30" letter-spacing="0.45" fill="#7814f0">t<tspan font-size="17" dy="11.5">1</tspan><tspan dy="-11.5">=1870 ms</tspan></text>
<text x="487.7" y="531.3" font-size="30" letter-spacing="0.75" fill="#d41c1c">t<tspan font-size="17" dy="11.5">1</tspan><tspan dy="-11.5">=110 ms</tspan></text>
<text transform="translate(55 596.6) rotate(-90)" font-size="31" text-anchor="middle"><tspan font-size="26.5">&#916;</tspan>I/I<tspan font-size="18" dy="11">ph</tspan><tspan dy="-11"> (%)</tspan></text>
<path d="M111.5 876.8H633.2V1218.8H111.5M116.7 876.8V1218.8" fill="none" stroke="#1a1a1a" stroke-width="1.6"/>
<text x="109.3" y="885.0" font-size="26" text-anchor="end">-7</text>
<text x="109.3" y="933.8" font-size="26" text-anchor="end">-8</text>
<text x="109.3" y="982.6" font-size="26" text-anchor="end">-9</text>
<text x="109.3" y="1031.3" font-size="26" text-anchor="end">-10</text>
<text x="109.3" y="1080.1" font-size="26" text-anchor="end">-11</text>
<text x="109.3" y="1128.9" font-size="26" text-anchor="end">-12</text>
<text x="109.3" y="1177.7" font-size="26" text-anchor="end">-13</text>
<text x="109.3" y="1226.5" font-size="26" text-anchor="end">-14</text>
<path d="M116.7 876.80h7M116.7 925.58h7M116.7 974.36h7M116.7 1023.14h7M116.7 1071.92h7M116.7 1120.70h7M116.7 1169.48h7M116.7 1218.26h7M116.7 901.19h4M116.7 949.97h4M116.7 998.75h4M116.7 1047.53h4M116.7 1096.31h4M116.7 1145.09h4M116.7 1193.87h4M111.50 1218.8v-6.75M176.75 1218.8v-3.75M242.00 1218.8v-6.75M307.25 1218.8v-3.75M372.50 1218.8v-6.75M437.75 1218.8v-3.75M503.00 1218.8v-6.75M568.25 1218.8v-3.75M633.50 1218.8v-6.75M111.5 1218.8v-5" stroke="#1a1a1a" stroke-width="1.5" fill="none"/>
<text x="111.50" y="1246.7" font-size="26" text-anchor="middle">2,2</text>
<text x="242.00" y="1246.7" font-size="26" text-anchor="middle">2,4</text>
<text x="372.50" y="1246.7" font-size="26" text-anchor="middle">2,6</text>
<text x="503.00" y="1246.7" font-size="26" text-anchor="middle">2,8</text>
<text x="633.50" y="1246.7" font-size="26" text-anchor="middle">3,0</text>
<text x="374" y="1273.3" font-size="26" letter-spacing="0.6" text-anchor="middle">1000/T (K<tspan font-size="13" dy="-14">-1</tspan><tspan dy="14">)</tspan></text>
<text transform="translate(65.8 1059) rotate(-90)" font-size="26" text-anchor="middle">Ln(1/(t<tspan font-size="16" dy="12">1</tspan><tspan dy="-12">T</tspan><tspan font-size="16" dy="12">,M</tspan><tspan font-size="16" dy="-26">2</tspan><tspan dy="14">)) (s</tspan><tspan font-size="16" dy="-14">-1</tspan><tspan dy="14">K</tspan><tspan font-size="16" dy="-14">-2</tspan><tspan dy="14">)</tspan></text>
<text x="576.1" y="912" font-size="27" text-anchor="middle">(c)</text>
<text x="379" y="1040.2" font-size="26" letter-spacing="0.33" fill="#1414b4">0.8 eV (from <tspan font-size="23">&#916;</tspan>I/I<tspan font-size="15" dy="9.5">ph</tspan><tspan dy="-9.5">)</tspan></text>
<text x="188.5" y="1122" font-size="26" letter-spacing="0.3" fill="#d41c1c">0.95 eV (from <tspan font-size="23">&#916;</tspan>I)</text>
</g>
</svg>
</body></html>
